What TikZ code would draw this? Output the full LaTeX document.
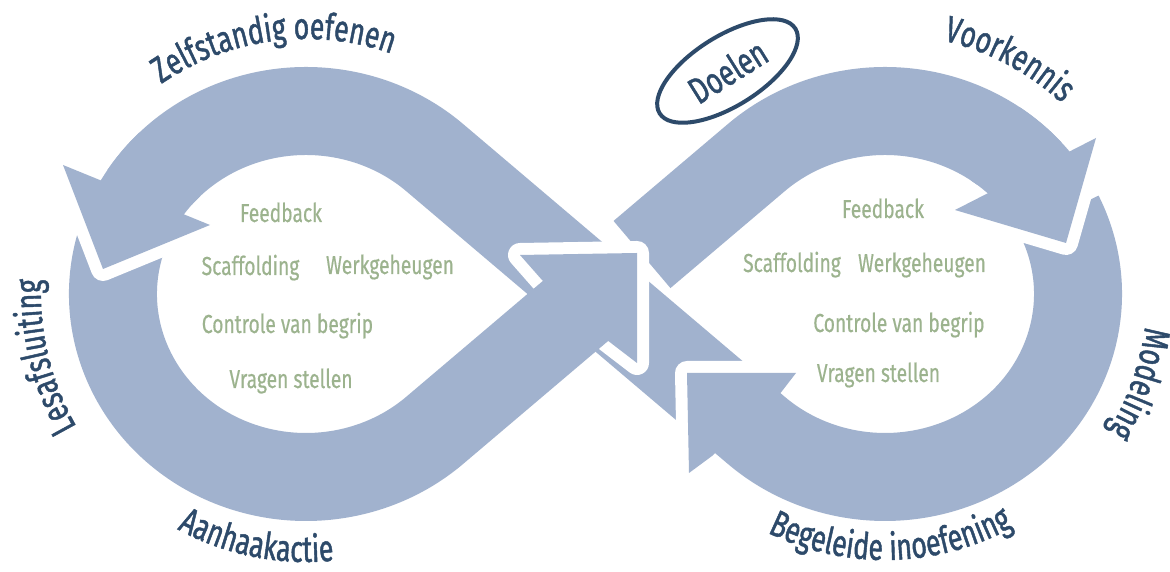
\documentclass[tikz,border=0pt]{standalone}
\usepackage{fontspec}
\usetikzlibrary{shapes.geometric,decorations.text,calc}
\newfontfamily\labfont{Fira Sans}[FakeStretch=0.72,FakeBold=1.2]
\newfontfamily\grnfont{Fira Sans}[FakeStretch=0.74,FakeBold=0.4]
\definecolor{bandblue}{HTML}{A1B2CE}
\definecolor{darkblue}{HTML}{2D4A6A}
\definecolor{sage}{HTML}{9CB38E}
\begin{document}
\begin{tikzpicture}[x=1pt,y=1pt,
  band/.style={draw=bandblue, line width=88pt},
  headfill/.style={fill=bandblue},
  gap/.style={draw=white, line width=24pt, line join=round},
  grn/.style={text=sage, font=\grnfont\fontsize{26}{30}\selectfont, inner sep=0pt, anchor=base},
  curvlab/.style={decorate, decoration={text along path, text align=center, text color=darkblue,
     text={|\labfont\fontsize{37}{40}\selectfont|#1}}},
  doel/.style={ellipse, draw=darkblue, line width=4pt, minimum width=160pt, minimum height=70pt,
     rotate=32, text=darkblue, font=\labfont\fontsize{37}{40}\selectfont, inner sep=0pt}]
\useasboundingbox (0,0) rectangle (1170,572);
\fill[white] (0,0) rectangle (1170,572);
% key points of the figure eight
\coordinate (X) at (595.5,278);
\coordinate (TL) at (434.67,414.4);
\coordinate (BL) at (434.67,141.6);
\coordinate (TR) at (756.33,414.4);
\coordinate (BR) at (756.33,141.6);
\coordinate (Cstart) at (725.15,168.04);
\coordinate (Astart) at (642.0,317.5);
\coordinate (Dstart) at (121.43,331.5);
\coordinate (Bstart) at (1059.04,357.07);
\coordinate (Bend) at (728.97,164.81);
\coordinate (Cpiece) at (169.53,407.40);
\coordinate (Apiece) at (995.70,427.91);
% head corners
\coordinate (Co) at (63,407);  \coordinate (Ct) at (103,303); \coordinate (Ci) at (210,347);
\coordinate (Ao) at (1096,434); \coordinate (At) at (1066,329); \coordinate (Ai) at (955,362);
\coordinate (Dn1) at (542,292); \coordinate (Db1) at (520,317); \coordinate (Dt) at (637,319);
\coordinate (Db2) at (637,209); \coordinate (Dn2) at (607,232);
\coordinate (Bn1) at (779,177); \coordinate (Bb1) at (796,199); \coordinate (Bt) at (687,199);
\coordinate (Bb2) at (689,99);  \coordinate (Bn2) at (712,116);
% C : crossing -> top of left loop -> left head
\draw[band] (Cstart) -- (X) -- (TL) arc[start angle=48.19, end angle=152, x radius=193, y radius=183];
\fill[headfill] (Co) -- (Ct) -- (Ci) -- cycle;
% A : crossing -> top of right loop -> right head
\draw[band] (Astart) -- (TR) arc[start angle=131.81, end angle=38, x radius=193, y radius=183];
\fill[headfill] (Ao) -- (At) -- (Ai) -- cycle;
% D : left side -> bottom of left loop -> centre head
\draw[gap] (Dn1) -- (Db1) -- (Dt) -- (Db2) -- (Dn2) -- cycle;
\draw[band] (Dstart) arc[start angle=163, end angle=311.81, x radius=193, y radius=183] -- (X);
\fill[headfill] (Dn1) -- (Db1) -- (Dt) -- (Db2) -- (Dn2) -- cycle;
% B : right side -> bottom of right loop -> lower centre head
\draw[gap] (Bn1) -- (Bb1) -- (Bt) -- (Bb2) -- (Bn2) -- cycle;
\draw[band] (Bstart) arc[start angle=25.6, end angle=-131.81, x radius=193, y radius=183] -- (Bend);
\fill[headfill] (Bn1) -- (Bb1) -- (Bt) -- (Bb2) -- (Bn2) -- cycle;
% left head again, over the start of D
\draw[gap] (Co) -- (Ct) -- (Ci) -- cycle;
\draw[band] (Cpiece) arc[start angle=135, end angle=152, x radius=193, y radius=183];
\fill[headfill] (Co) -- (Ct) -- (Ci) -- cycle;
% right head again, over the start of B
\draw[gap] (Ao) -- (At) -- (Ai) -- cycle;
\draw[band] (Apiece) arc[start angle=55, end angle=38, x radius=193, y radius=183];
\fill[headfill] (Ao) -- (At) -- (Ai) -- cycle;
% curved labels
\path[curvlab={Zelfstandig oefenen}] ($(306,278)+(140:255)$) arc[start angle=140, end angle=55, radius=255];
\path[curvlab={Lesafsluiting}] ($(306,278)+(230:265)$) arc[start angle=230, end angle=157, radius=265];
\path[curvlab={Aanhaakactie}] ($(306,278)+(220:268)$) arc[start angle=220, end angle=297.3, radius=268];
\path[curvlab={Voorkennis}] ($(885,278)+(90:260)$) arc[start angle=90, end angle=34.2, radius=260];
\path[curvlab={Modeling}] ($(885,278)+(10:262)$) arc[start angle=10, end angle=-48.8, radius=262];
\path[curvlab={Begeleide inoefening}] ($(885,278)+(220:266)$) arc[start angle=220, end angle=322.6, radius=266];
\node[doel] (doelen) at (727.5,501) {Doelen};
% inner texts, left loop
\node[grn] (lfeed) at (281,350) {Feedback};
\node[grn] (lscaf) at (250.5,297) {Scaffolding};
\node[grn] (lwerk) at (390,298) {Werkgeheugen};
\node[grn] (lcontr) at (287.5,239) {Controle van begrip};
\node[grn] (lvrag) at (291,184) {Vragen stellen};
% inner texts, right loop
\node[grn] (rfeed) at (883,354) {Feedback};
\node[grn] (rscaf) at (792,300) {Scaffolding};
\node[grn] (rwerk) at (922,300) {Werkgeheugen};
\node[grn] (rcontr) at (899,240) {Controle van begrip};
\node[grn] (rvrag) at (878.5,190) {Vragen stellen};
\end{tikzpicture}
\end{document}
